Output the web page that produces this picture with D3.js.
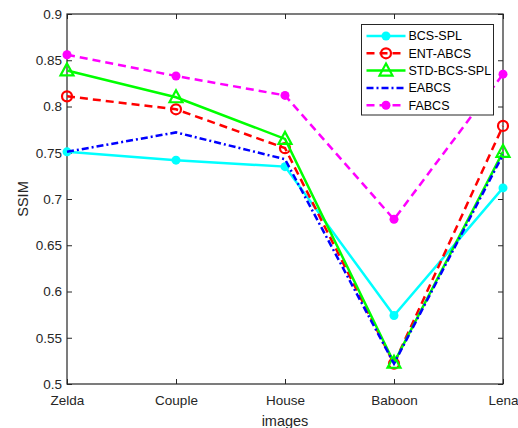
<!DOCTYPE html>
<html>
<head>
<meta charset="UTF-8">
<title>SSIM</title>
<script src="https://cdn.jsdelivr.net/npm/d3@7"></script>
<style>
  body { margin: 0; background: #fff; }
  text { font-family: "Liberation Sans", Arial, sans-serif; }
</style>
</head>
<body>
<div class="container"></div>
<script>
// données
const images = ["Zelda", "Couple", "House", "Baboon", "Lena"];
const yTicks = [0.5, 0.55, 0.6, 0.65, 0.7, 0.75, 0.8, 0.85, 0.9];
const bcsSpl = [0.751, 0.742, 0.735, 0.574, 0.712];
const entAbcs = [0.811, 0.797, 0.755, 0.522, 0.779];
const stdBcsSpl = [0.839, 0.810, 0.765, 0.523, 0.751];
const eabcs = [0.751, 0.772, 0.743, 0.522, 0.748];
const fabcs = [0.856, 0.833, 0.812, 0.678, 0.835];

const series = [
  { name: "BCS-SPL", values: bcsSpl, color: "#00ffff", dash: null, marker: "dot" },
  { name: "ENT-ABCS", values: entAbcs, color: "#ff0000", dash: "8,5", marker: "ring" },
  { name: "STD-BCS-SPL", values: stdBcsSpl, color: "#00ff00", dash: null, marker: "tri" },
  { name: "EABCS", values: eabcs, color: "#0000ff", dash: "7,3,2,3", marker: null },
  { name: "FABCS", values: fabcs, color: "#ff00ff", dash: "8,5", marker: "dot" }
];

const width = 518, height = 428;
const marginLeft = 67, marginRight = 15, marginTop = 14, marginBottom = 44;
const innerW = width - marginLeft - marginRight;
const innerH = height - marginTop - marginBottom;

const x = d3.scalePoint().domain(images).range([marginLeft, width - marginRight]);
const y = d3.scaleLinear().domain([0.5, 0.9]).range([height - marginBottom, marginTop]);

const svg = d3.create("svg")
  .attr("width", width)
  .attr("height", height)
  .attr("viewBox", [0, 0, width, height]);

const axisColor = "#262626";

// axes (ticks vers l'intérieur, boîte complète)
svg.append("g")
  .attr("transform", `translate(0,${height - marginBottom})`)
  .call(d3.axisBottom(x).tickSize(-5).tickPadding(11))
  .call(g => g.select(".domain").remove());
svg.append("g")
  .attr("transform", `translate(0,${marginTop})`)
  .call(d3.axisTop(x).tickSize(-5).tickFormat(""))
  .call(g => g.select(".domain").remove());
svg.append("g")
  .attr("transform", `translate(${marginLeft},0)`)
  .call(d3.axisLeft(y).tickValues(yTicks).tickSize(-5).tickPadding(5).tickFormat(d3.format("")))
  .call(g => g.select(".domain").remove());
svg.append("g")
  .attr("transform", `translate(${width - marginRight},0)`)
  .call(d3.axisRight(y).tickValues(yTicks).tickSize(-5).tickFormat(""))
  .call(g => g.select(".domain").remove());

svg.selectAll(".tick line").attr("stroke", axisColor).attr("stroke-width", 1);
svg.selectAll(".tick text").attr("fill", axisColor).attr("font-size", 13.5)
  .attr("font-family", "Liberation Sans, Arial, sans-serif");

svg.append("rect")
  .attr("x", marginLeft).attr("y", marginTop)
  .attr("width", innerW).attr("height", innerH)
  .attr("fill", "none").attr("stroke", axisColor).attr("stroke-width", 1.2);

// labels
svg.append("text")
  .attr("x", marginLeft + innerW / 2).attr("y", 426)
  .attr("text-anchor", "middle").attr("font-size", 14.5).attr("fill", axisColor)
  .text("images");
svg.append("text")
  .attr("transform", `translate(28,${marginTop + innerH / 2}) rotate(-90)`)
  .attr("text-anchor", "middle").attr("font-size", 14.5).attr("fill", axisColor)
  .text("SSIM");

const line = d3.line().x((d, i) => x(images[i])).y(d => y(d));

function drawMarker(g, type, color, cx, cy) {
  if (type === "dot") {
    g.append("circle").attr("cx", cx).attr("cy", cy).attr("r", 4.5).attr("fill", color);
  } else if (type === "ring") {
    g.append("circle").attr("cx", cx).attr("cy", cy).attr("r", 5)
      .attr("fill", "none").attr("stroke", color).attr("stroke-width", 2.2);
  } else if (type === "tri") {
    g.append("path")
      .attr("d", `M${cx},${cy - 7}L${cx + 6.5},${cy + 5}L${cx - 6.5},${cy + 5}Z`)
      .attr("fill", "none").attr("stroke", color).attr("stroke-width", 2.2);
  }
}

const plot = svg.append("g");
series.forEach(s => {
  plot.append("path")
    .attr("d", line(s.values))
    .attr("fill", "none")
    .attr("stroke", s.color)
    .attr("stroke-width", 2.5)
    .attr("stroke-dasharray", s.dash);
  s.values.forEach((v, i) => drawMarker(plot, s.marker, s.color, x(images[i]), y(v)));
});

// légende
const legX = 361.5, legY = 24.5, legW = 132, rowH = 17.3;
const leg = svg.append("g");
leg.append("rect")
  .attr("x", legX).attr("y", legY).attr("width", legW).attr("height", 90.5)
  .attr("fill", "#fff").attr("stroke", axisColor).attr("stroke-width", 1);
series.forEach((s, i) => {
  const cy = legY + 11.5 + i * rowH;
  leg.append("line")
    .attr("x1", legX + 5).attr("x2", legX + 44).attr("y1", cy).attr("y2", cy)
    .attr("stroke", s.color).attr("stroke-width", 2.5)
    .attr("stroke-dasharray", s.dash);
  drawMarker(leg, s.marker, s.color, legX + 24.5, cy);
  leg.append("text")
    .attr("x", legX + 47).attr("y", cy).attr("dy", "0.35em")
    .attr("font-size", 12.5).attr("fill", "#000")
    .text(s.name);
});

document.querySelector(".container").appendChild(svg.node());
</script>
</body>
</html>
